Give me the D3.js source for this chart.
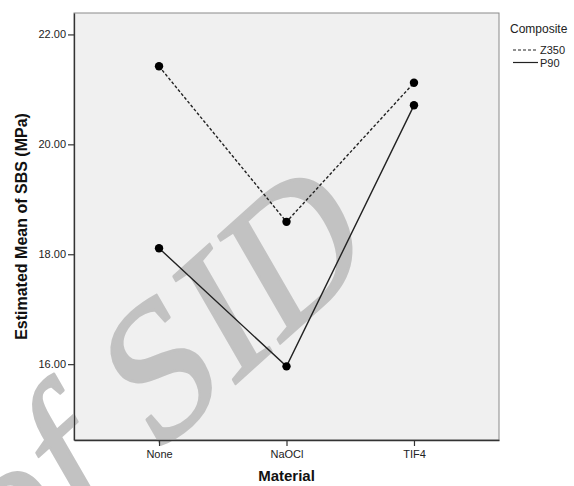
<!DOCTYPE html>
<html>
<head>
<meta charset="utf-8">
<script src="https://cdn.jsdelivr.net/npm/d3@7"></script>
<style>
  body { margin: 0; background: #fff; }
  svg { display: block; font-family: "Liberation Sans", Arial, sans-serif; }
</style>
</head>
<body>
<svg id="chart" width="574" height="486"></svg>
<script>
// data
const materials = ["None", "NaOCl", "TIF4"];
const z350 = [21.42, 18.59, 21.12];
const p90 = [18.11, 15.96, 20.71];
const yTicks = [16, 18, 20, 22];
const seriesNames = ["Z350", "P90"];

const svg = d3.select("#chart");
const plot = { left: 74, right: 499, top: 13, bottom: 440 };

const x = d3.scalePoint().domain(materials).range([plot.left, plot.right]).padding(0.667);
const y = d3.scaleLinear().domain([14.62, 22.39]).range([plot.bottom, plot.top]);

// plot background
svg.append("rect")
  .attr("x", plot.left).attr("y", plot.top)
  .attr("width", plot.right - plot.left).attr("height", plot.bottom - plot.top)
  .attr("fill", "#f0f0f0")
  .attr("stroke", "#8a8a8a")
  .attr("stroke-width", 1);

// watermark (slanted "of SID")
const wm = svg.append("g")
  .attr("transform", "translate(154,457) rotate(-42) skewX(-12)")
  .style("font-family", "'Liberation Serif', 'Times New Roman', serif")
  .style("font-size", "185px")
  .attr("fill", "#c2c2c2")
  .attr("stroke", "#c2c2c2")
  .attr("stroke-width", 2.5)
  .attr("stroke-linejoin", "round");
wm.append("text").attr("x", 0).attr("y", 0).text("SID");
wm.append("text").attr("x", -46).attr("y", 0).attr("text-anchor", "end").text("of");

// axes
const yAxis = svg.append("g")
  .attr("transform", `translate(${plot.left},0)`)
  .call(d3.axisLeft(y).tickValues(yTicks).tickFormat(d3.format(".2f")).tickSize(6).tickSizeOuter(0).tickPadding(2));
const xAxis = svg.append("g")
  .attr("transform", `translate(0,${plot.bottom})`)
  .call(d3.axisBottom(x).tickSize(6).tickSizeOuter(0).tickPadding(4));

[yAxis, xAxis].forEach(a => {
  a.select(".domain").attr("stroke", "#333").attr("stroke-width", 1.3);
  a.selectAll(".tick line").attr("stroke", "#333").attr("stroke-width", 1.2);
  a.selectAll(".tick text")
    .attr("fill", "#222")
    .style("font-size", "11px")
    .style("font-family", "'Liberation Sans', Arial, sans-serif");
});

// lines
const line = d3.line().x((d, i) => x(materials[i])).y(d => y(d));

svg.append("path")
  .datum(z350)
  .attr("d", line)
  .attr("fill", "none")
  .attr("stroke", "#222")
  .attr("stroke-width", 1.4)
  .attr("stroke-dasharray", "3,2");

svg.append("path")
  .datum(p90)
  .attr("d", line)
  .attr("fill", "none")
  .attr("stroke", "#222")
  .attr("stroke-width", 1.4);

[z350, p90].forEach(s => {
  svg.append("g").selectAll("circle")
    .data(s)
    .enter()
    .append("circle")
    .attr("cx", (d, i) => x(materials[i]))
    .attr("cy", d => y(d))
    .attr("r", 4.2)
    .attr("fill", "#000");
});

// axis titles
svg.append("text")
  .attr("x", (plot.left + plot.right) / 2)
  .attr("y", 481)
  .attr("text-anchor", "middle")
  .style("font-size", "15px")
  .style("font-weight", "bold")
  .attr("fill", "#111")
  .text("Material");

svg.append("text")
  .attr("transform", `translate(27,${(plot.top + plot.bottom) / 2}) rotate(-90)`)
  .attr("text-anchor", "middle")
  .style("font-size", "16px")
  .style("font-weight", "bold")
  .attr("fill", "#111")
  .text("Estimated Mean of SBS (MPa)");

// legend
svg.append("text")
  .attr("x", 510).attr("y", 33)
  .style("font-size", "12px")
  .attr("fill", "#222")
  .text("Composite");

const legend = svg.append("g").selectAll("g")
  .data(seriesNames)
  .enter()
  .append("g")
  .attr("transform", (d, i) => `translate(513,${50 + i * 12.5})`);

legend.append("line")
  .attr("x1", 0).attr("x2", 25)
  .attr("stroke", "#222")
  .attr("stroke-width", 1.2)
  .attr("stroke-dasharray", (d, i) => i === 0 ? "3,2" : null);

legend.append("text")
  .attr("x", 27).attr("y", 4)
  .style("font-size", "11px")
  .attr("fill", "#222")
  .text(d => d);
</script>
</body>
</html>
